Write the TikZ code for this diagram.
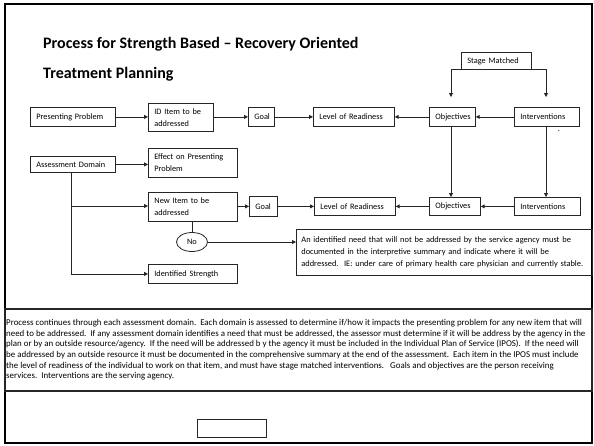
\documentclass[tikz,border=0pt]{standalone}
\usepackage{fontspec}
\setmainfont{Carlito}
\usetikzlibrary{arrows.meta,shapes.geometric}
\hyphenpenalty=10000
\exhyphenpenalty=10000
\begin{document}
\begin{tikzpicture}[x=1pt,y=-1pt,
  box/.style={draw=black!85,line width=0.8pt,inner xsep=6pt,inner ysep=0pt,align=left,anchor=north west,font=\fontsize{8.3}{12}\selectfont},
  arr/.style={draw=black!85,line width=0.8pt,-{Triangle[length=3.8pt,width=3.8pt]}},
  ln/.style={draw=black!85,line width=0.8pt},
  title/.style={anchor=base west,inner sep=0pt,font=\fontsize{16}{19}\selectfont\bfseries}]
\useasboundingbox (0,0) rectangle (594,445);
% frame
\draw[line width=1.4pt] (5,4) rectangle (592,443);
\draw[line width=2.6pt] (5,443) -- (5,4) -- (592,4);
% title
\node[title] (t1) at (43,48) {Process for Strength Based -- Recovery Oriented};
\node[title] (t2) at (43,78) {Treatment Planning};
% top row
\node[box,minimum width=85pt,minimum height=19pt,text width=73pt] (pp) at (30,107) {Presenting Problem};
\node[box,minimum width=65pt,minimum height=28pt,text width=53pt] (id) at (148,103) {ID Item to be\\addressed};
\node[box,minimum width=26pt,minimum height=19pt,text width=14pt] (goal1) at (248,107) {\mbox{Goal}};
\node[box,minimum width=81pt,minimum height=19pt,text width=69pt] (lor1) at (313,107) {Level of Readiness};
\node[box,minimum width=46pt,minimum height=19pt,text width=34pt] (obj1) at (429,107) {\mbox{Objectives}};
\node[box,minimum width=65pt,minimum height=19pt,text width=53pt] (int1) at (514,107) {\mbox{Interventions}};
\node[box,minimum width=70pt,minimum height=17pt,text width=58pt] (sm) at (461,52) {Stage Matched};
\node[inner sep=0pt,font=\fontsize{8.3}{12}\selectfont] (dot) at (559,131) {.};
% second block
\node[box,minimum width=85pt,minimum height=16pt,text width=73pt] (ad) at (30,156) {Assessment Domain};
\node[box,minimum width=89pt,minimum height=29pt,text width=77pt] (eff) at (148,148) {Effect on Presenting\\Problem};
\node[box,minimum width=89pt,minimum height=29pt,text width=77pt] (new) at (148,192) {New Item to be\\addressed};
\node[box,minimum width=28pt,minimum height=20pt,text width=16pt] (goal2) at (249,196) {\mbox{Goal}};
\node[box,minimum width=81pt,minimum height=18pt,text width=69pt] (lor2) at (314,197) {Level of Readiness};
\node[box,minimum width=51pt,minimum height=18pt,text width=39pt] (obj2) at (429,197) {\mbox{Objectives}};
\node[box,minimum width=66pt,minimum height=18pt,text width=54pt] (int2) at (514,197) {\mbox{Interventions}};
\node[draw=black!85,line width=0.8pt,ellipse,minimum width=31pt,minimum height=19pt,inner sep=0pt,font=\fontsize{8.3}{12}\selectfont] (no) at (192,242) {No};
\node[box,minimum width=296pt,minimum height=46pt,text width=286pt,inner xsep=5pt,font=\fontsize{8.4}{12.3}\selectfont] (note) at (296,229) {An identified need that will not be addressed by the service agency must be\\documented in the interpretive summary and indicate where it will be\\addressed.\ \ IE: under care of primary health care physician and currently stable.};
\node[box,minimum width=89pt,minimum height=19pt,text width=77pt] (ids) at (148,264) {Identified Strength};
% connectors top row
\draw[arr] (pp.east) -- (id.west |- pp.east);
\draw[arr] (id.east |- goal1.west) -- (goal1.west);
\draw[arr] (goal1.east) -- (lor1.west);
\draw[arr] (obj1.west) -- (lor1.east);
\draw[arr] (int1.west) -- (obj1.east);
\coordinate (smL) at (451,97);
\coordinate (smR) at (546,97);
\draw[arr] (sm.south west) -| (smL);
\draw[arr] (sm.south east) -| (smR);
\draw[arr] (obj1.south -| smL) -- (obj2.north -| smL);
\draw[arr] (int1.south -| smR) -- (int2.north -| smR);
% second block connectors
\draw[arr] (ad.east) -- (eff.west |- ad.east);
\draw[arr] (ad.south -| 71,0) |- (ids.west);
\draw[arr] (71,206) -- (new.west |- 0,206);
\draw[arr] (new.east |- goal2.west) -- (goal2.west);
\draw[arr] (goal2.east) -- (lor2.west);
\draw[arr] (obj2.west) -- (lor2.east);
\draw[arr] (int2.west) -- (obj2.east);
\draw[ln] (new.south -| no.north) -- (no.north);
\draw[arr] (no.east) -- (note.west |- no.east);
% paragraph
\draw[line width=1.2pt,draw=black!85] (5,309) rectangle (592,391);
\node[anchor=north west,inner sep=0pt,align=left,font=\fontsize{8.9}{10.7}\selectfont] (para) at (6,319) {Process continues through each assessment domain.\ \ Each domain is assessed to determine if/how it impacts the presenting problem for any new item that will\\need to be addressed.\ \ If any assessment domain identifies a need that must be addressed, the assessor must determine if it will be address by the agency in the\\plan or by an outside resource/agency.\ \ If the need will be addressed b y the agency it must be included in the Individual Plan of Service (IPOS).\ \ If the need will\\be addressed by an outside resource it must be documented in the comprehensive summary at the end of the assessment.\ \ Each item in the IPOS must include\\the level of readiness of the individual to work on that item, and must have stage matched interventions.\ \ \ Goals and objectives are the person receiving\\services.\ \ Interventions are the serving agency.};
\node[draw=black!85,line width=0.8pt,anchor=north west,minimum width=69pt,minimum height=18pt,inner sep=0pt] (empty) at (197,419) {};
\end{tikzpicture}
\end{document}
